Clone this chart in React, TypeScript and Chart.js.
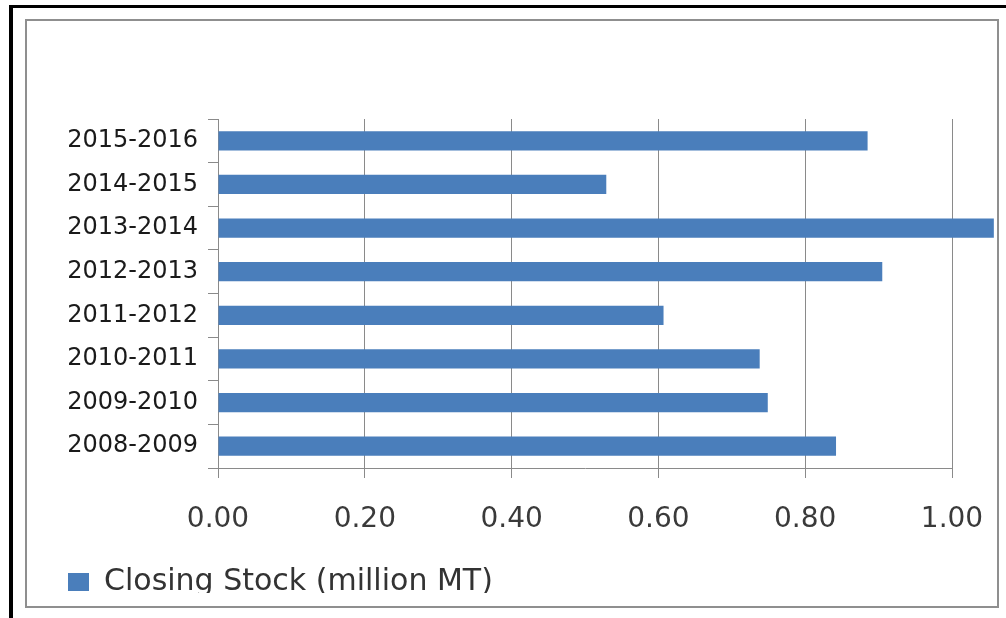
import React, { useEffect, useRef } from 'react';
import { Chart, registerables } from 'chart.js';

Chart.register(...registerables);

const categories = ['2008-2009', '2009-2010', '2010-2011', '2011-2012', '2012-2013', '2013-2014', '2014-2015', '2015-2016'];
const closingStock = [0.842, 0.749, 0.738, 0.607, 0.905, 1.057, 0.529, 0.885];
const seriesLabel = 'Closing Stock (million MT)';
const xMin = 0;
const xMax = 1.0;
const xStep = 0.2;

export default function App() {
  const canvasRef = useRef<HTMLCanvasElement | null>(null);

  useEffect(() => {
    if (!canvasRef.current) return;
    const chart = new Chart(canvasRef.current, {
      type: 'bar',
      data: {
        labels: categories,
        datasets: [
          {
            label: seriesLabel,
            data: closingStock,
            backgroundColor: '#4A7EBB',
            borderWidth: 0,
            barPercentage: 0.44,
            categoryPercentage: 1,
            clip: false as any,
          },
        ],
      },
      options: {
        indexAxis: 'y',
        responsive: false,
        animation: false,
        layout: { padding: { left: 9, right: 43, top: 99, bottom: 0 } },
        scales: {
          x: {
            min: xMin,
            max: xMax,
            ticks: {
              stepSize: xStep,
              callback: (v: any) => Number(v).toFixed(2),
              font: { family: 'DejaVu Sans', size: 28 },
              color: '#3a3a3a',
              padding: 25,
            },
            grid: { color: '#8a8a8a', tickLength: 10, lineWidth: 1 },
            border: { color: '#8a8a8a' },
            afterFit: (s: any) => {
              s.height = 67;
              s.paddingLeft = 0;
              s.paddingRight = 0;
            },
          },
          y: {
            reverse: true,
            ticks: {
              font: { family: 'DejaVu Sans', size: 24 },
              color: '#1a1a1a',
              padding: 10,
            },
            grid: { drawOnChartArea: false, tickLength: 10, color: '#8a8a8a', offset: true },
            border: { color: '#8a8a8a' },
            afterFit: (s: any) => {
              s.width = 182;
            },
          },
        },
        plugins: {
          legend: {
            position: 'bottom',
            align: 'start',
            labels: {
              boxWidth: 21,
              boxHeight: 18,
              padding: 32,
              font: { family: 'DejaVu Sans', size: 30 },
              color: '#333333',
            },
          },
          tooltip: { enabled: false },
        },
      } as any,
    });
    return () => chart.destroy();
  }, []);

  return (
    <div style={{ position: 'fixed', left: 0, top: 0, width: 1006, height: 618, background: '#ffffff', overflow: 'hidden' }}>
      <div style={{ position: 'absolute', left: 9, top: 5, width: 4, height: 613, background: '#000' }} />
      <div style={{ position: 'absolute', left: 9, top: 5, width: 997, height: 3, background: '#000' }} />
      <div
        style={{
          position: 'absolute',
          left: 25,
          top: 19,
          width: 970,
          height: 585,
          border: '2px solid #8f8f8f',
        }}
      />
      <div style={{ position: 'absolute', left: 27, top: 20, width: 968, height: 573, overflow: 'hidden' }}>
        <canvas ref={canvasRef} width={968} height={587} style={{ display: 'block' }} />
      </div>
    </div>
  );
}
